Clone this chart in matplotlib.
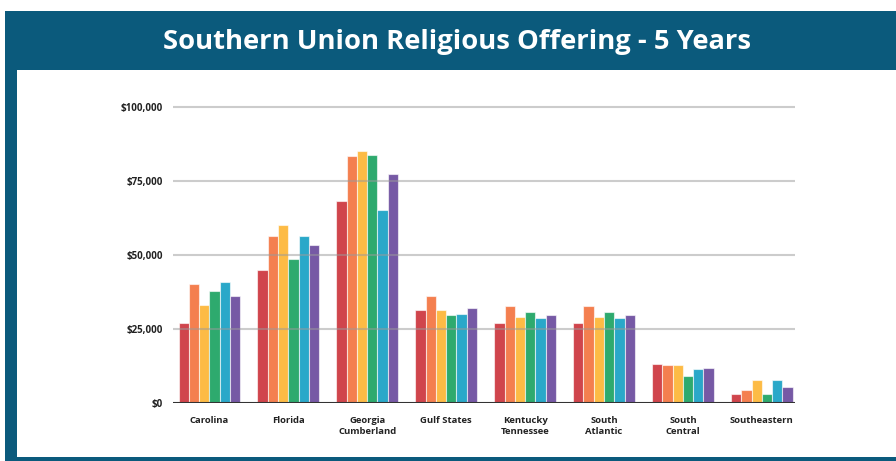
import matplotlib
matplotlib.use("Agg")
import matplotlib.pyplot as plt
from matplotlib.patches import Rectangle
import numpy as np

plt.rcParams['font.family'] = ['Open Sans', 'DejaVu Sans']

title = "Southern Union Religious Offering - 5 Years"
categories = ["Carolina", "Florida", "Georgia\nCumberland", "Gulf States",
              "Kentucky\nTennessee", "South\nAtlantic", "South\nCentral", "Southeastern"]
year1 = [26900, 44800, 68300, 31400, 27100, 27100, 13300, 2900]
year2 = [40200, 56400, 83600, 36300, 32900, 32900, 12800, 4500]
year3 = [33100, 60000, 85100, 31400, 29200, 29200, 12800, 7900]
year4 = [37800, 48500, 83900, 29600, 30600, 30600, 9000, 2900]
year5 = [40800, 56400, 65300, 30100, 28600, 28600, 11400, 7900]
year6 = [36100, 53300, 77300, 32000, 29600, 29600, 11900, 5300]
series = [year1, year2, year3, year4, year5, year6]
colors = ["#D0454C", "#F47F4F", "#FDBB45", "#2EAA6E", "#2AA8C9", "#7659A5"]
yticks = [0, 25000, 50000, 75000, 100000]
ytick_labels = ["$0", "$25,000", "$50,000", "$75,000", "$100,000"]

W, H = 896, 461
fig = plt.figure(figsize=(W / 100, H / 100), dpi=100)
fig.patch.set_facecolor("white")

def fx(px):
    return px / W

def fy(py):
    return 1 - py / H

navy = "#0B5A7C"
fig.patches.append(Rectangle((fx(5), 0), 1 - fx(5), fy(11), transform=fig.transFigure,
                             facecolor=navy, edgecolor="none", zorder=-3))
fig.patches.append(Rectangle((fx(17), fy(457)), 1 - fx(17), fy(70) - fy(457),
                             transform=fig.transFigure, facecolor="white",
                             edgecolor="none", zorder=-2))
fig.text(fx(457), fy(42), title, color="white", fontsize=19.7, fontweight="bold",
         ha="center", va="center")

ymax = 105000
top_px = 403 - ymax / 1000 * 2.96
ax = fig.add_axes([fx(173), fy(403), fx(795) - fx(173), fy(top_px) - fy(403)])
ax.set_facecolor("none")
ax.set_zorder(2)

x = np.arange(len(categories))
bw = 0.13
for i, (vals, c) in enumerate(zip(series, colors)):
    ax.bar(x + (i - 2.5) * bw, vals, width=bw, color=c,
           edgecolor=(1, 1, 1, 0.6), linewidth=0.8, zorder=2)

for yv in yticks[1:]:
    ax.axhline(yv, color="#9a9a9a", alpha=0.5, linewidth=1.5, zorder=3)
ax.axhline(0, color="#333333", linewidth=1.5, zorder=4)

ax.set_xlim(-0.46, 7.42)
ax.set_ylim(0, ymax)
ax.set_yticks(yticks)
ax.set_yticklabels(ytick_labels, fontsize=7, fontweight="bold", color="#222222")
ax.set_xticks(x)
ax.set_xticklabels(categories, fontsize=6.8, fontweight="bold", color="#222222",
                   linespacing=1.4)
ax.tick_params(axis="both", length=0)
ax.tick_params(axis="y", pad=7)
ax.tick_params(axis="x", pad=9)
for s in ax.spines.values():
    s.set_visible(False)

fig.savefig("out.png", dpi=100)
